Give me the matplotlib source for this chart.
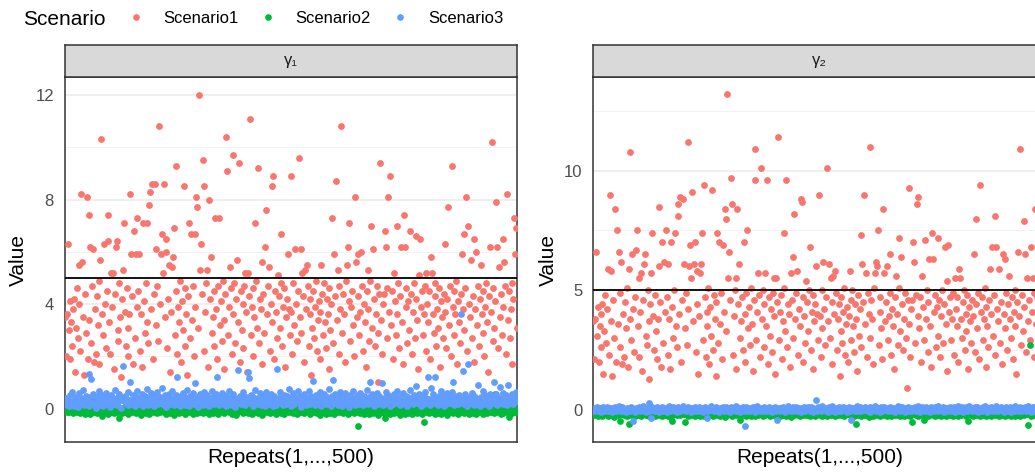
import numpy as np
import matplotlib
matplotlib.use("Agg")
import matplotlib.pyplot as plt
from matplotlib.lines import Line2D

plt.rcParams['font.family'] = ['Liberation Sans', 'DejaVu Sans']

# ---------------- data ----------------
repeats = np.arange(1, 501)
scenarios = ['Scenario1', 'Scenario2', 'Scenario3']
colors = ['#F8766D', '#00BA38', '#619CFF']
facet_labels = ['γ₁', 'γ₂']
true_value = 5

# Scenario1, gamma1 (values in tenths)
s1_g1_tenths = [
    35,20,36,63,30,41,19,33,24,38,42,14,31,46,27,40,55,22,82,56,
    35,13,44,29,81,19,74,34,62,25,47,61,18,38,21,43,32,49,17,57,
    103,36,28,63,40,23,45,64,74,33,21,52,39,52,15,44,62,64,30,26,
    48,35,12,42,53,71,37,24,46,31,20,36,82,59,43,17,68,27,59,39,
    73,45,59,22,36,16,71,41,29,48,71,33,25,78,83,38,86,19,44,86,
    61,32,47,26,108,40,59,67,52,86,35,60,65,23,42,55,14,37,54,58,
    69,28,93,45,21,39,33,49,18,41,30,85,24,46,36,13,43,71,27,67,
    34,47,20,67,39,81,77,31,120,53,63,44,95,85,22,37,48,53,16,80,
    42,58,29,35,45,24,73,38,19,47,73,32,41,26,49,34,15,44,104,91,
    28,39,54,46,21,97,36,48,25,42,57,33,94,18,45,30,40,23,47,52,
    37,14,52,43,111,28,39,46,20,35,71,49,31,92,25,42,38,17,56,44,
    29,62,76,36,47,54,22,40,33,85,89,19,45,37,27,51,43,31,48,67,
    24,39,46,16,35,42,59,38,28,89,37,21,48,32,61,40,26,45,96,35,
    61,29,52,43,18,53,38,55,47,24,36,42,13,31,45,27,39,49,22,34,
    41,19,37,55,44,28,48,33,23,42,36,15,46,30,40,73,25,59,43,87,
    34,53,21,47,38,108,29,44,36,18,49,55,62,41,71,26,39,45,32,20,
    81,56,35,43,59,28,37,60,47,22,40,33,16,45,53,38,26,49,70,31,
    61,42,24,36,47,29,10,44,94,34,21,40,44,68,62,27,46,81,37,89,
    32,45,19,52,41,28,70,36,48,23,43,62,33,17,74,62,39,46,25,41,
    30,68,44,21,37,48,27,42,66,34,15,51,65,39,45,28,36,47,22,52,
    40,33,45,19,58,52,36,29,43,48,24,38,31,46,16,41,35,27,44,37,
    63,23,42,77,32,47,20,93,39,45,28,36,49,17,41,33,25,44,59,38,
    67,30,46,81,22,70,40,35,57,27,43,18,65,38,60,32,47,24,42,55,
    36,29,45,20,39,48,33,14,43,62,37,102,26,46,31,41,79,62,23,54,
    35,44,28,65,39,56,47,21,82,34,45,27,38,48,17,42,73,59,69,31,
]

# Scenario1, gamma2 (values in tenths)
s1_g2_tenths = [
    37,21,38,66,31,43,20,35,26,40,44,15,33,48,28,42,59,23,90,58,
    37,14,46,30,84,20,75,36,66,26,49,62,19,40,22,45,34,51,18,59,
    108,38,29,65,42,24,47,67,75,35,22,55,41,57,16,46,61,65,31,27,
    50,37,13,44,57,74,39,25,48,33,21,38,85,60,45,18,70,28,62,41,
    75,47,61,23,38,17,70,43,30,50,74,35,26,81,86,40,89,20,46,88,
    61,34,49,27,112,42,60,69,55,91,37,61,70,24,44,58,15,39,57,61,
    74,29,94,47,22,41,35,51,19,43,31,92,25,48,38,14,45,74,28,70,
    36,49,21,69,41,84,80,33,132,55,66,46,97,86,23,39,50,55,17,84,
    44,61,30,37,47,25,70,40,20,49,75,34,43,27,51,36,16,46,109,96,
    29,41,57,48,22,101,38,50,26,44,57,35,96,19,47,31,42,24,49,55,
    39,15,55,45,114,29,41,48,21,37,74,51,33,96,26,44,40,18,57,46,
    30,64,82,38,49,58,23,42,35,88,87,20,47,39,28,54,45,33,50,68,
    25,41,48,17,37,44,60,40,29,90,39,22,50,34,62,42,27,47,101,37,
    61,30,55,45,19,56,40,58,49,25,38,44,14,33,47,28,41,51,23,36,
    43,20,39,58,46,29,50,35,24,44,38,16,48,31,42,73,26,61,45,90,
    36,57,22,49,40,110,30,46,38,19,51,57,62,60,75,27,41,47,34,21,
    84,57,37,45,60,29,39,65,49,23,42,35,17,47,56,40,27,51,72,33,
    64,44,25,38,49,30,9,46,93,36,22,42,46,70,62,28,48,86,39,89,
    34,47,20,56,43,29,71,38,50,24,45,63,35,18,74,63,41,48,26,43,
    31,72,46,22,39,50,28,44,68,36,16,54,69,41,47,29,38,49,23,55,
    42,35,47,20,59,55,38,30,45,50,25,40,33,48,17,43,37,28,46,39,
    65,24,44,80,34,49,21,94,41,47,29,38,51,18,43,35,26,46,59,40,
    68,31,48,81,23,68,42,37,59,28,45,19,65,40,63,34,49,25,44,56,
    38,30,47,21,41,50,35,15,45,66,39,109,27,48,33,43,79,65,24,55,
    37,46,29,68,41,55,49,22,84,36,47,28,40,50,18,44,76,62,72,33,
]

# Scenario2, gamma1 (values in hundredths)
s2_g1_hundredths = [
    -8,3,-12,-2,-15,6,-5,-10,1,-18,-4,8,-7,-13,-1,-9,4,-16,-6,2,-11,-3,-20,5,-8,
    -14,0,-6,-19,7,-10,-2,-12,3,-7,-17,-4,9,-9,-13,1,-27,-5,-11,4,-15,-1,-8,-22,2,
    -6,-12,6,-3,-16,-9,0,-14,-7,5,-37,-10,-2,-18,3,-5,-12,8,-8,-21,-1,-13,2,-6,-15,
    -4,7,-11,-17,-2,-9,4,-14,-6,-23,1,-10,-3,6,-16,-7,-12,0,-19,-5,3,-9,-14,-1,-11,
    5,-8,-18,-4,2,-13,-6,-10,8,-15,-2,-20,-7,1,-12,-5,-16,4,-9,-3,-24,-11,6,-6,-14,
    -1,-17,3,-8,-12,-4,7,-10,-19,-2,-13,0,-6,-15,5,-9,-21,-3,-11,2,-7,-16,-5,4,-13,
    -8,-1,-18,6,-10,-4,-14,-7,1,-20,-12,3,-6,-16,-2,-9,8,-13,-5,-22,-1,-11,4,-8,-15,
    -3,-17,2,-10,-6,5,-14,-8,-1,-19,-12,7,-4,-9,-23,0,-15,-7,3,-11,-2,-18,-6,6,-13,
    -9,1,-16,-4,-11,4,-20,-7,-1,-14,8,-10,-5,-17,2,-8,-12,-3,-25,5,-9,-15,0,-6,-13,
    3,-18,-2,-10,-7,6,-14,-4,-21,1,-11,-8,4,-16,-5,-12,-1,-19,7,-9,-3,-15,2,-7,-13,
    -4,5,-17,-10,-1,-8,-22,3,-12,-6,8,-14,-3,-9,-18,0,-11,-5,4,-15,-7,-20,2,-10,-2,
    -13,6,-8,-17,-4,1,-11,-24,-6,5,-14,-1,-9,-19,3,-7,-12,-3,-16,7,-10,-5,-21,0,-13,
    -8,4,-15,-2,-11,-6,2,-18,-9,6,-13,-4,-20,1,-7,-14,-1,-10,8,-16,-5,-12,3,-67,-8,
    -3,-17,5,-11,-6,-22,0,-9,-14,4,-4,-19,-12,2,-7,-16,7,-10,-2,-13,-25,1,-8,-5,-15,
    3,-11,-18,-38,-4,6,-14,-9,-1,-21,-6,2,-12,-17,5,-8,-3,-15,-10,0,-23,-5,4,-13,-7,
    -19,1,-9,-2,-16,7,-11,-6,-20,3,-14,-4,-10,-1,-18,5,-8,-13,-3,-22,2,-52,-7,-15,-5,
    4,-12,-17,-2,-9,6,-14,-6,-21,0,-11,-4,3,-16,-8,-19,1,-10,-3,-13,7,-7,-24,-1,-15,
    -5,2,-12,-18,-8,5,-14,-2,-10,-20,1,-7,-15,4,-11,-4,-17,-9,8,-13,-1,-22,-6,3,-12,
    -16,-3,6,-9,-19,-5,0,-14,-11,2,-7,-21,-2,-13,5,-8,-17,42,-10,-4,-15,1,-12,-6,-18,
    55,-9,3,-14,-1,-11,-20,4,-7,-16,-3,-10,7,-13,-5,-34,-8,2,-18,-12,0,-6,-15,-9,-2,
]

# Scenario3, gamma1 (values in hundredths)
s3_g1_hundredths = [
    22,41,15,33,8,52,27,19,64,30,11,45,24,37,6,58,29,17,40,25,71,13,35,48,20,
    31,134,9,43,112,26,55,18,38,4,47,23,66,32,14,28,50,10,36,21,61,27,16,44,33,
    7,53,25,39,19,70,30,12,46,24,57,35,3,42,162,29,49,20,37,15,63,26,100,34,18,
    51,28,9,44,22,68,32,17,40,26,55,11,36,47,23,74,30,14,42,27,59,19,35,8,48,
    25,38,62,16,31,45,21,77,29,12,50,34,5,41,24,56,18,37,66,27,13,44,30,53,121,
    20,39,9,47,26,60,33,15,43,22,72,31,11,49,28,36,58,17,40,98,25,46,6,34,54,
    21,38,14,63,29,44,19,52,32,8,41,24,69,35,16,47,27,57,119,30,12,43,22,61,37,
    18,50,26,10,45,33,67,23,39,14,55,29,42,7,36,20,149,31,48,16,40,26,64,35,12,
    44,28,140,117,22,53,37,9,46,25,71,32,17,41,29,59,13,38,24,50,34,11,62,27,45,
    19,36,56,23,42,8,48,31,15,153,26,39,65,21,44,30,12,52,35,18,47,25,73,33,10,
    40,28,58,16,43,24,37,66,20,49,32,7,45,27,54,36,14,41,22,69,30,18,48,25,106,
    34,13,51,29,40,21,62,38,9,46,26,57,33,17,43,28,75,20,39,11,47,108,31,55,24,
    36,15,49,27,64,32,10,42,23,58,35,19,46,29,6,53,37,21,68,30,14,44,26,50,33,
    18,61,28,40,12,47,24,38,72,31,16,45,102,27,56,35,9,43,22,59,30,19,48,26,37,
    98,14,42,25,63,33,20,51,29,8,46,36,17,55,24,40,31,67,22,44,13,38,27,60,34,
    19,49,28,11,43,35,70,23,39,16,52,30,45,85,21,37,57,26,10,47,32,18,62,29,41,
    24,119,36,13,79,31,54,20,44,119,27,39,15,48,33,66,22,42,9,50,35,18,58,28,45,
    21,37,64,100,30,12,47,26,40,16,53,33,361,25,143,38,19,55,31,8,169,27,43,22,60,
    34,14,49,29,41,20,92,36,11,45,26,68,32,17,52,39,23,44,10,57,30,48,21,36,100,
    27,54,15,42,33,83,24,46,19,61,35,28,50,13,89,31,40,22,56,37,18,47,26,65,32,
]

# Scenario2, gamma2 (values in hundredths)
s2_g2_hundredths = [
    -10,-22,2,-15,-5,-28,-12,5,-18,-8,-25,-3,-14,-20,0,-11,-26,-7,-16,3,-21,-9,-13,-30,-4,
    -17,-1,-23,-10,-49,-6,-19,-14,4,-24,-8,-12,-27,-2,-59,-16,-9,-21,-5,-13,1,-25,-11,-18,-7,
    -22,-3,-15,-28,-10,6,-19,-6,-24,-13,-1,-17,-29,-8,-14,-20,2,-11,-26,-5,-16,-9,-23,-12,0,
    -18,-27,-7,-14,-21,3,-10,-25,-4,-16,-12,-30,-46,-8,-19,-2,-15,-22,-6,-13,5,-24,-11,-17,-3,
    -20,-53,-9,-14,-26,-1,-18,-7,-23,-12,4,-16,-28,-5,-21,-10,-15,1,-25,-8,-19,-13,-29,-3,-11,
    -22,-6,-17,2,-24,-14,-9,-27,-4,-19,-12,0,-21,-16,-7,-25,-10,6,-18,-13,-30,-2,-15,-22,-8,
    -20,-11,3,-26,-5,-17,-14,-23,-9,-1,-19,-12,-45,-7,-24,-16,4,-21,-10,-28,-3,-15,-18,-6,-25,
    -13,-1,-20,-9,-27,-4,-16,-22,2,-11,-18,-8,-29,-14,-6,-23,-10,5,-19,-12,-26,-3,-17,-21,-7,
    -15,-24,0,-11,-19,-8,-28,-13,3,-22,-5,-17,-10,-25,-2,-14,-20,-9,-30,1,-16,-12,-23,-6,-18,
    -4,-21,-13,-27,4,-10,-19,-7,-24,-15,-1,-22,-11,-17,-26,2,-8,-14,-20,-5,-29,-12,0,-18,-9,
    -23,-16,3,-25,-6,-13,-20,-11,-28,-2,-17,-9,-22,5,-14,-19,-4,-26,-12,-8,-21,1,-15,-24,-10,
    -18,-3,-27,-13,-7,-20,-16,2,-23,-10,-11,-19,-5,-25,-14,-59,-9,-22,4,-17,-12,-28,-6,-15,-21,
    -1,-24,-10,-18,-30,-8,-13,3,-20,-26,-4,-16,-11,-23,0,-19,-7,-27,-14,-9,-22,6,-17,-12,-25,
    -5,-20,-15,1,-28,-10,-18,-3,-24,-13,-8,-21,-16,4,-26,-11,-6,-19,-29,-2,-14,-23,-9,-17,-12,
    -25,2,-54,-7,-20,-15,-22,-4,-27,-11,-18,5,-13,-24,-8,-42,-16,-1,-21,-10,-26,-14,3,-19,-6,
    -23,-12,-28,-9,-17,0,-22,-15,-5,-25,-11,-19,4,-13,-27,-7,-20,-16,-2,-24,-10,-18,-29,-8,-14,
    1,-21,-12,-26,-6,-17,-23,-3,-15,-20,-9,6,-25,-13,-50,-18,-4,-22,-11,-28,-7,-16,2,-24,-10,
    -19,-14,-27,-5,-21,-12,3,-17,-25,-8,-15,-22,0,-13,-29,-6,-19,-11,-24,4,-16,-20,-9,-26,-3,
    -14,-21,-12,1,-27,-7,-18,-23,-10,-15,5,-25,-4,-19,-13,-28,-8,-17,-22,2,-11,-26,-6,-16,-20,
    -9,-24,3,-14,-18,-66,-12,272,-27,-5,-21,-15,-8,-23,0,-17,-11,-25,-3,-19,-13,-28,-7,-16,-22,
]

# Scenario3, gamma2 (values in hundredths)
s3_g2_hundredths = [
    2,-5,8,-1,11,-8,4,-3,6,-10,1,9,-6,3,-2,12,-7,5,0,-4,7,-9,3,-1,10,
    -5,6,-2,13,-8,2,-4,9,-7,4,0,-11,5,-3,8,1,-6,11,-1,-49,3,-9,7,-4,2,
    10,-2,-7,5,0,14,-5,3,-10,8,-1,28,-6,4,-35,9,-3,1,-8,6,12,-4,2,-9,7,
    -1,11,-6,3,-2,8,-11,5,0,13,-7,4,-3,9,1,-5,6,-9,10,-1,3,-6,7,-2,15,
    -4,2,-8,6,0,11,-3,4,-10,8,1,-6,12,-2,5,-7,3,9,-1,-5,7,-9,2,10,-3,
    -37,4,-6,8,0,13,-4,2,-8,6,-1,10,-5,3,-11,7,1,-3,12,-7,5,-2,9,-6,0,
    4,-9,11,-1,6,-4,2,-7,14,0,-3,8,-10,5,-2,9,-5,-70,3,12,-6,1,7,-8,4,
    -1,10,-4,6,-9,2,13,-3,5,-7,0,8,-5,11,-2,3,-8,6,-1,9,-6,4,-11,7,1,
    -3,12,-5,-42,2,8,-7,5,-1,10,-4,3,-9,6,0,14,-2,7,-6,1,11,-8,4,-3,9,
    -5,2,8,-1,-10,6,3,-4,12,-7,5,0,9,-2,-6,10,1,-9,7,-3,4,42,-5,11,-1,
    6,-8,3,13,-4,0,8,-6,2,-11,9,-1,5,-7,15,-3,4,-9,7,1,-5,11,-2,6,-8,
    3,10,-4,0,7,-10,2,12,-6,-45,5,-3,8,-1,-7,4,14,-5,1,9,-2,-8,6,3,-4,
    11,-1,7,-6,2,10,-9,4,0,8,-3,13,-7,5,-1,6,-10,3,9,-5,1,12,-4,7,-2,
    -8,5,10,-1,3,-6,8,0,-11,6,2,14,-4,9,-7,1,11,-3,4,-9,7,-2,12,-5,3,
    0,8,-6,5,-1,10,-8,2,13,-4,6,-10,3,9,-2,1,-7,11,4,-5,7,0,-9,12,-3,
    5,-6,9,2,-1,14,-8,4,-4,7,0,11,-10,3,8,-2,6,-7,1,12,-5,4,-3,10,-9,
    2,7,-1,13,-6,5,0,9,-11,3,-4,11,1,-8,6,15,-2,4,-7,8,-3,10,-5,2,12,
    -9,6,-1,3,-6,9,0,14,-4,5,-10,7,2,-3,11,-7,4,-1,8,-5,13,1,-8,6,-2,
    10,-4,3,-9,7,0,12,-6,5,-2,9,-11,2,6,-3,14,-7,4,-1,8,-5,11,0,-8,7,
    3,-4,10,-6,1,13,-2,6,-10,4,9,-1,-7,12,2,-5,7,0,-3,11,-8,5,1,-6,8,
]

panel_series = [
    [np.array(s1_g1_tenths) / 10, np.array(s2_g1_hundredths) / 100, np.array(s3_g1_hundredths) / 100],
    [np.array(s1_g2_tenths) / 10, np.array(s2_g2_hundredths) / 100, np.array(s3_g2_hundredths) / 100],
]
for ser in panel_series:
    for s in ser:
        assert len(s) == len(repeats), [len(x) for x in ser]

# ---------------- layout ----------------
W, H = 1035, 472
fig = plt.figure(figsize=(W / 100, H / 100), dpi=100)


def px_rect(x0, y0, x1, y1):
    return [x0 / W, 1 - y1 / H, (x1 - x0) / W, (y1 - y0) / H]


panels = [
    dict(x0=65, x1=517, ylim=(-1.28, 12.69), major=[0, 4, 8, 12], minor=[2, 6, 10], ylab_x=18),
    dict(x0=593.3, x1=1045.3, ylim=(-1.36, 13.93), major=[0, 5, 10], minor=[2.5, 7.5, 12.5], ylab_x=548),
]
PANEL_TOP, PANEL_BOT, STRIP_TOP = 77, 442, 45
border = '#333333'

for p, series, lab in zip(panels, panel_series, facet_labels):
    ax = fig.add_axes(px_rect(p['x0'], PANEL_TOP, p['x1'], PANEL_BOT))
    ax.set_facecolor('white')
    for vals, col in zip(series, colors):
        ax.scatter(repeats, vals, s=24, color=col, linewidths=0, zorder=3)
    ax.axhline(true_value, color='black', lw=1.3, zorder=4)
    ax.set_xlim(1, 500)
    ax.set_ylim(*p['ylim'])
    ax.set_xticks([])
    ax.set_yticks(p['major'])
    ax.set_yticklabels([f"{v:g}" for v in p['major']])
    ax.set_yticks(p['minor'], minor=True)
    ax.grid(axis='y', which='major', color='#EBEBEB', lw=1.1, zorder=0)
    ax.grid(axis='y', which='minor', color='#F0F0F0', lw=0.6, zorder=0)
    ax.set_axisbelow(True)
    ax.tick_params(axis='y', which='both', length=0, pad=8, labelsize=12, labelcolor='#4D4D4D')
    for sp in ax.spines.values():
        sp.set_color(border)
        sp.set_linewidth(1.1)

    sax = fig.add_axes(px_rect(p['x0'], STRIP_TOP, p['x1'], PANEL_TOP))
    sax.set_facecolor('#D9D9D9')
    sax.set_xticks([])
    sax.set_yticks([])
    for sp in sax.spines.values():
        sp.set_color(border)
        sp.set_linewidth(1.1)
    sax.text(0.5, 0.5, lab, ha='center', va='center', fontsize=12, color='#1A1A1A',
             transform=sax.transAxes)

    cx = (p['x0'] + p['x1']) / 2
    fig.text(cx / W, 1 - 463 / H, 'Repeats(1,...,500)', ha='center', va='baseline', fontsize=15)
    fig.text(p['ylab_x'] / W, 1 - ((PANEL_TOP + PANEL_BOT) / 2) / H, 'Value', rotation=90,
             ha='center', va='center', fontsize=15)

# legend
fig.text(23 / W, 1 - 25 / H, 'Scenario', ha='left', va='baseline', fontsize=15)
for name, col, mx, tx in zip(scenarios, colors, [136, 268, 400], [163, 295, 428]):
    fig.add_artist(Line2D([mx / W], [1 - 17 / H], marker='o', markersize=4.8, color=col,
                          linestyle='none', markeredgewidth=0, transform=fig.transFigure))
    fig.text(tx / W, 1 - 23.3 / H, name, ha='left', va='baseline', fontsize=12)

fig.savefig('out.png', dpi=100)
